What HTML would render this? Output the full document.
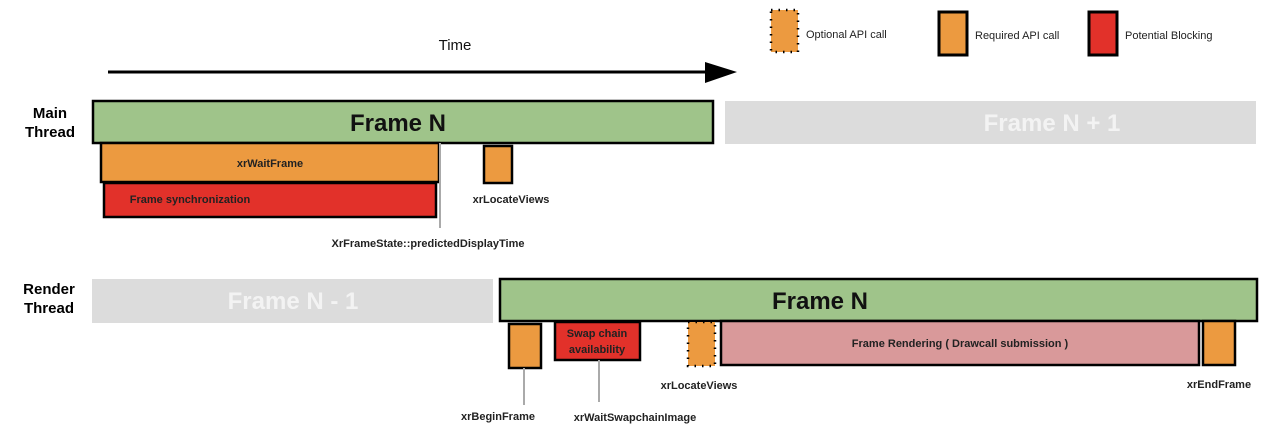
<!DOCTYPE html>
<html><head><meta charset="utf-8"><style>body{margin:0;background:#fff}svg{display:block}text{font-family:"Liberation Sans",sans-serif}</style></head><body>
<svg width="1278" height="446" viewBox="0 0 1278 446">
<!-- legend -->
<rect x="771" y="10" width="27" height="42" fill="#ec9a40" stroke="#000" stroke-width="2.5" stroke-dasharray="1.5 6"/>
<text x="806" y="38" font-size="11" fill="#222">Optional API call</text>
<rect x="939" y="12" width="28" height="43" fill="#ec9a40" stroke="#000" stroke-width="3"/>
<text x="975" y="39" font-size="11" fill="#222">Required API call</text>
<rect x="1089" y="12" width="28" height="43" fill="#e2312a" stroke="#000" stroke-width="3"/>
<text x="1125" y="39" font-size="11" fill="#222">Potential Blocking</text>
<!-- time -->
<text x="455" y="50" font-size="15" text-anchor="middle" fill="#111">Time</text>
<line x1="108" y1="72" x2="708" y2="72" stroke="#000" stroke-width="3"/>
<polygon points="705,62 737,72 705,83" fill="#000"/>
<!-- main thread -->
<text x="50" y="118" font-size="15" font-weight="bold" text-anchor="middle">Main</text>
<text x="50" y="137" font-size="15" font-weight="bold" text-anchor="middle">Thread</text>
<rect x="93" y="101" width="620" height="42" fill="#9fc48a" stroke="#000" stroke-width="2.5"/>
<text x="398" y="131" font-size="24" font-weight="bold" text-anchor="middle" fill="#111">Frame N</text>
<rect x="725" y="101" width="531" height="43" fill="#dcdcdc"/>
<text x="1052" y="131" font-size="24" font-weight="bold" text-anchor="middle" fill="#f3f3f3">Frame N + 1</text>
<rect x="101" y="143" width="338" height="39" fill="#ec9a40" stroke="#000" stroke-width="2.5"/>
<text x="270" y="167" font-size="11" font-weight="bold" text-anchor="middle" fill="#222">xrWaitFrame</text>
<rect x="104" y="183" width="332" height="34" fill="#e2312a" stroke="#000" stroke-width="2.5"/>
<text x="190" y="203" font-size="11" font-weight="bold" text-anchor="middle" fill="#222">Frame synchronization</text>
<line x1="440" y1="143" x2="440" y2="228" stroke="#aaa" stroke-width="2"/>
<text x="428" y="247" font-size="11" font-weight="bold" text-anchor="middle" fill="#222">XrFrameState::predictedDisplayTime</text>
<rect x="484" y="146" width="28" height="37" fill="#ec9a40" stroke="#000" stroke-width="2.5"/>
<text x="511" y="203" font-size="11" font-weight="bold" text-anchor="middle" fill="#222">xrLocateViews</text>
<!-- render thread -->
<text x="49" y="294" font-size="15" font-weight="bold" text-anchor="middle">Render</text>
<text x="49" y="313" font-size="15" font-weight="bold" text-anchor="middle">Thread</text>
<rect x="92" y="279" width="401" height="44" fill="#dcdcdc"/>
<text x="293" y="309" font-size="24" font-weight="bold" text-anchor="middle" fill="#f3f3f3">Frame N - 1</text>
<rect x="500" y="279" width="757" height="42" fill="#9fc48a" stroke="#000" stroke-width="2.5"/>
<text x="820" y="309" font-size="24" font-weight="bold" text-anchor="middle" fill="#111">Frame N</text>
<rect x="509" y="324" width="32" height="44" fill="#ec9a40" stroke="#000" stroke-width="2.5"/>
<line x1="524" y1="368" x2="524" y2="405" stroke="#aaa" stroke-width="2"/>
<text x="498" y="420" font-size="11" font-weight="bold" text-anchor="middle" fill="#222">xrBeginFrame</text>
<rect x="555" y="322" width="85" height="38" fill="#e2312a" stroke="#000" stroke-width="2.5"/>
<text x="597" y="337" font-size="11" font-weight="bold" text-anchor="middle" fill="#222">Swap chain</text>
<text x="597" y="353" font-size="11" font-weight="bold" text-anchor="middle" fill="#222">availability</text>
<line x1="599" y1="360" x2="599" y2="402" stroke="#aaa" stroke-width="2"/>
<text x="635" y="421" font-size="11" font-weight="bold" text-anchor="middle" fill="#222">xrWaitSwapchainImage</text>
<rect x="688" y="322" width="27" height="44" fill="#ec9a40" stroke="#000" stroke-width="2.5" stroke-dasharray="1.5 6"/>
<text x="699" y="389" font-size="11" font-weight="bold" text-anchor="middle" fill="#222">xrLocateViews</text>
<rect x="721" y="321" width="478" height="44" fill="#d9999a" stroke="#000" stroke-width="2.5"/>
<text x="960" y="347" font-size="11" font-weight="bold" text-anchor="middle" fill="#222">Frame Rendering ( Drawcall submission )</text>
<rect x="1203" y="321" width="32" height="44" fill="#ec9a40" stroke="#000" stroke-width="2.5"/>
<text x="1219" y="388" font-size="11" font-weight="bold" text-anchor="middle" fill="#222">xrEndFrame</text>
</svg>
</body></html>
